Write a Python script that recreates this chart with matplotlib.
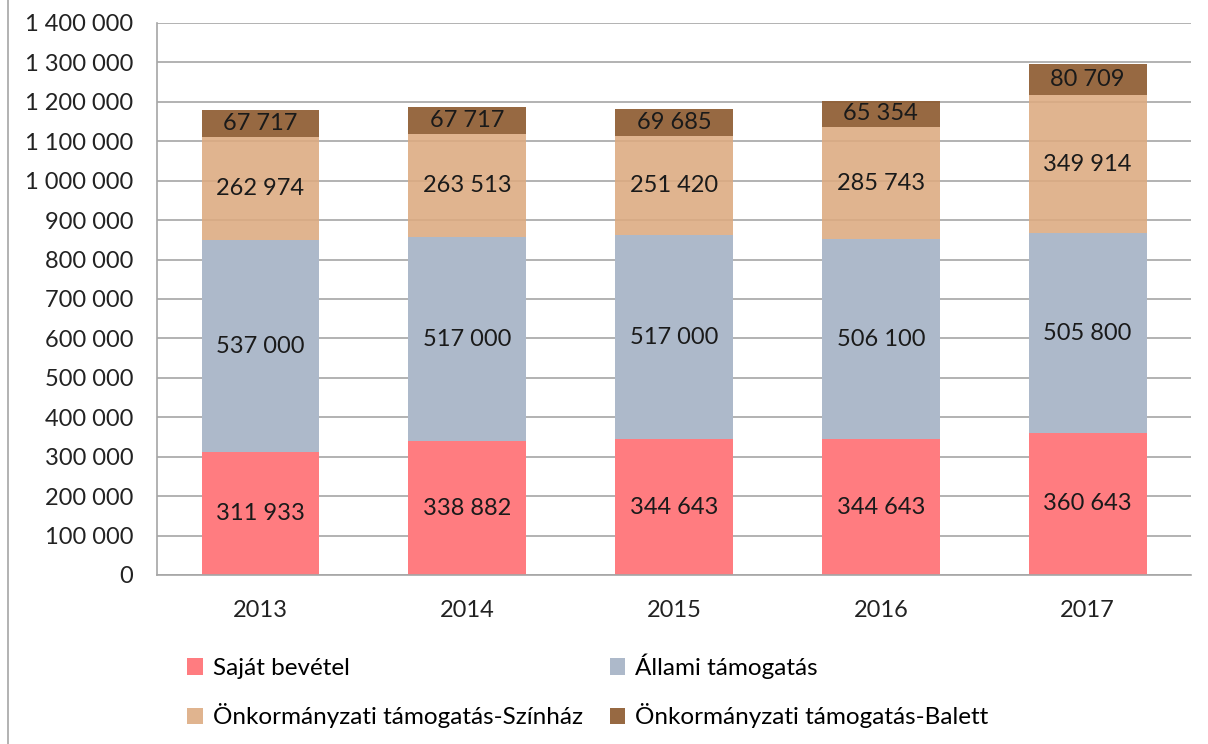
import numpy as np
import matplotlib.pyplot as plt
from matplotlib.lines import Line2D

plt.rcParams['font.family'] = ['Lato', 'DejaVu Sans']

# Adatok
evek = ['2013', '2014', '2015', '2016', '2017']
sajat = [311933, 338882, 344643, 344643, 360643]
allami = [537000, 517000, 517000, 506100, 505800]
szinhaz = [262974, 263513, 251420, 285743, 349914]
balett = [67717, 67717, 69685, 65354, 80709]

nevek = ['Saját bevétel', 'Állami támogatás',
         'Önkormányzati támogatás-Színház', 'Önkormányzati támogatás-Balett']
szinek = ['#FF7C80', '#ADB9CA', '#DCAA80', '#8E5C32']
alfa = [1, 1, 0.88, 0.92]


def fmt(v):
    return f'{int(v):,}'.replace(',', ' ')


fig = plt.figure(figsize=(12.08, 7.44), dpi=100)
ax = fig.add_axes([0.13, 0.2272, 0.856, 0.742])

x = np.arange(len(evek))
alap = np.zeros(len(evek))
for adat, nev, szin, a in zip([sajat, allami, szinhaz, balett], nevek, szinek, alfa):
    ax.bar(x, adat, 0.57, bottom=alap, color=szin, alpha=a, label=nev, zorder=2)
    for xi, b, v in zip(x, alap, adat):
        ax.text(xi, b + v / 2, fmt(v), ha='center', va='center', fontsize=17,
                color='#1a1a1a', zorder=3)
    alap = alap + np.array(adat)

ax.set_xlim(-0.5, 4.5)
ax.set_ylim(0, 1400000)
ax.set_yticks(np.arange(0, 1400001, 100000))
ax.set_yticklabels([fmt(v) for v in np.arange(0, 1400001, 100000)])
ax.set_xticks(x)
ax.set_xticklabels(evek)
ax.tick_params(length=0, labelsize=17, colors='#222222')
ax.tick_params(axis='y', pad=17)
ax.tick_params(axis='x', pad=18)
ax.yaxis.grid(True, color='#A6A6A6', linewidth=1.2, zorder=1)
ax.set_axisbelow(True)
for s in ['top', 'right']:
    ax.spines[s].set_visible(False)
for s in ['left', 'bottom']:
    ax.spines[s].set_color('#A6A6A6')
    ax.spines[s].set_linewidth(1.2)

# Jelmagyarázat sorfolytonosan
h, l = ax.get_legend_handles_labels()
sorrend = [0, 2, 1, 3]
fig.legend([h[i] for i in sorrend], [l[i] for i in sorrend], ncol=2,
           loc='upper left', bbox_to_anchor=(0.137, 0.151),
           frameon=False, fontsize=17.5, handlelength=0.65, handleheight=0.65,
           handletextpad=0.4, columnspacing=1.1, labelspacing=1.0)

fig.add_artist(Line2D([0.007, 0.007], [0, 1], color='#A6A6A6', linewidth=1.2))

plt.savefig('out.png', dpi=100)
